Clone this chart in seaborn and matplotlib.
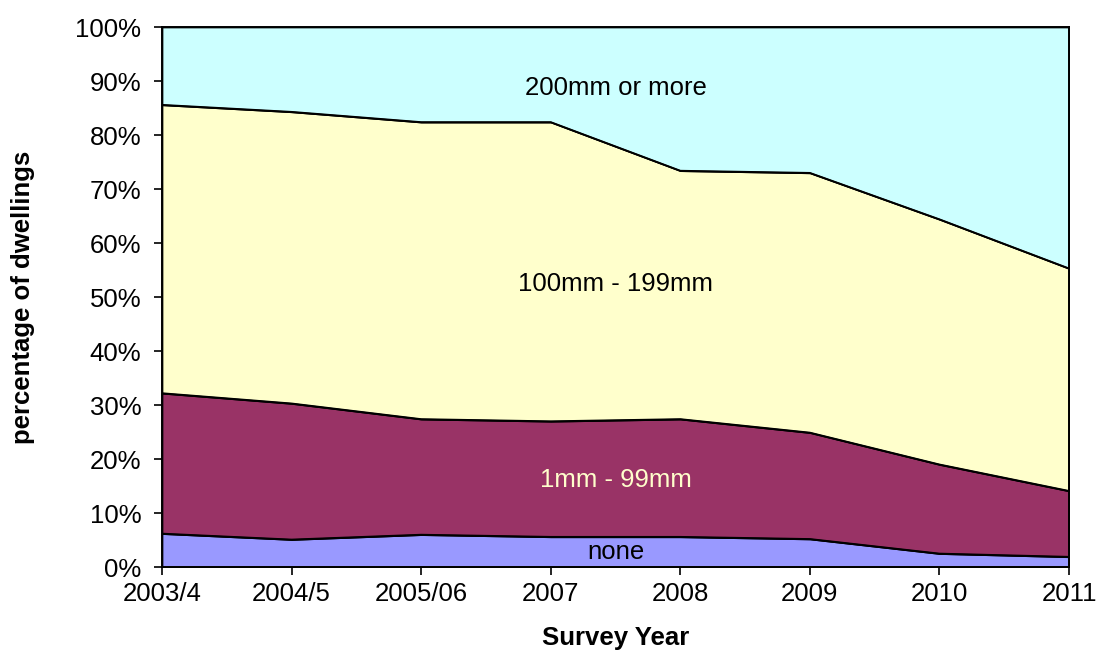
import numpy as np
import pandas as pd
import matplotlib
matplotlib.use("Agg")
import matplotlib.pyplot as plt
import seaborn as sns

# survey years and share of dwellings (%) by loft insulation thickness
years = ["2003/4", "2004/5", "2005/06", "2007", "2008", "2009", "2010", "2011"]
none_pct = [6.2, 5.1, 6.0, 5.6, 5.6, 5.2, 2.5, 1.9]
mm1_99 = [26.0, 25.2, 21.4, 21.4, 21.8, 19.7, 16.5, 12.2]
mm100_199 = [53.4, 54.0, 55.0, 55.4, 46.0, 48.1, 45.4, 41.2]
mm200_plus = [14.4, 15.7, 17.6, 17.6, 26.6, 27.0, 35.6, 44.7]
series_names = ["none", "1mm - 99mm", "100mm - 199mm", "200mm or more"]
colors = ["#9999FF", "#993366", "#FFFFCC", "#CCFFFF"]

sns.set_style("ticks")
plt.rcParams["font.family"] = ["Liberation Sans", "DejaVu Sans"]
plt.rcParams["text.color"] = "black"
plt.rcParams["axes.labelcolor"] = "black"

df = pd.DataFrame({
    "year": years,
    "none": none_pct,
    "1mm - 99mm": mm1_99,
    "100mm - 199mm": mm100_199,
    "200mm or more": mm200_plus,
})
xpos = np.arange(len(years))

fig = plt.figure(figsize=(10.97, 6.51), dpi=100)
ax = fig.add_axes([0.1477, 0.129, 0.8268, 0.8295])

ax.stackplot(xpos, [df[c] for c in series_names], colors=colors,
             edgecolor="black", linewidth=1.2)

# outline along the cumulative tops, drawn with seaborn
cum = df[series_names].cumsum(axis=1)
for c in series_names:
    sns.lineplot(x=xpos, y=cum[c].to_numpy(), ax=ax, color="black",
                 linewidth=1.2, legend=False)

ax.set_xlim(0, len(years) - 1)
ax.set_ylim(0, 100)
ax.set_xticks(xpos)
ax.set_xticklabels(years)
ax.set_yticks(np.arange(0, 101, 10))
ax.set_yticklabels([f"{v}%" for v in range(0, 101, 10)])
ax.tick_params(axis="both", labelsize=18.5, length=6, width=1.2, color="black",
               labelcolor="black", direction="out")
ax.tick_params(axis="x", pad=5)
ax.tick_params(axis="y", pad=9)

for s in ["left", "bottom", "top", "right"]:
    ax.spines[s].set_color("black")
    ax.spines[s].set_linewidth(1.4)

ax.set_xlabel("Survey Year", fontsize=18.5, fontweight="bold", labelpad=14)
ax.set_ylabel("percentage of dwellings", fontsize=18.5, fontweight="bold", labelpad=29)

# labels inside the areas
ax.text(3.5, 88.7, "200mm or more", ha="center", va="center", fontsize=18.5, color="black")
ax.text(3.5, 52.4, "100mm - 199mm", ha="center", va="center", fontsize=18.5, color="black")
ax.text(3.5, 16.1, "1mm - 99mm", ha="center", va="center", fontsize=18.5, color="#FFFFCC")
ax.text(3.5, 2.8, "none", ha="center", va="center", fontsize=18.5, color="black")

fig.savefig("out.png", dpi=100)
